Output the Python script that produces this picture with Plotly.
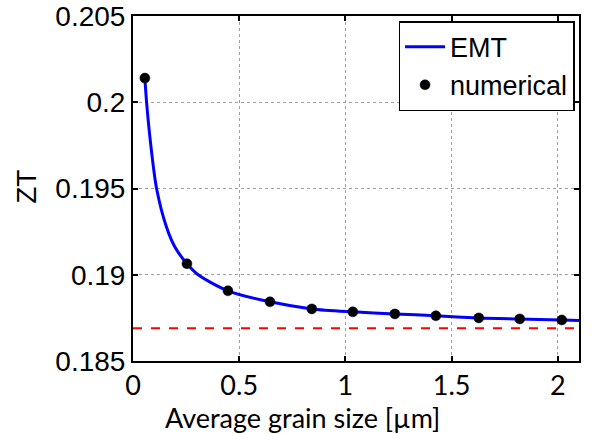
import plotly.graph_objects as go

# Numerical points
num_x = [0.056, 0.254, 0.447, 0.645, 0.842, 1.035, 1.233, 1.426, 1.628, 1.821, 2.019]
num_y = [0.2014, 0.19064, 0.18907, 0.18843, 0.18802, 0.18785, 0.18773, 0.18762, 0.18750, 0.18744, 0.18738]

# EMT curve
emt_x = [0.056, 0.064, 0.083, 0.111, 0.158, 0.198, 0.254, 0.307, 0.447, 0.645, 0.842, 1.035, 1.233, 1.426, 1.628, 1.821, 2.019, 2.1]
emt_y = [0.2014, 0.2000, 0.1976, 0.1950, 0.19275, 0.19159, 0.19064, 0.1900, 0.18907, 0.18843, 0.18802, 0.18785, 0.18773, 0.18762, 0.18750, 0.18744, 0.18738, 0.18735]

# Reference level (red dashed)
ref_x = [0, 2.1]
ref_y = [0.1869, 0.1869]

x_ticks = [0, 0.5, 1, 1.5, 2]
x_labels = ["0", "0.5", "1", "1.5", "2"]
y_ticks = [0.185, 0.19, 0.195, 0.2, 0.205]
y_labels = ["0.185", "0.19", "0.195", "0.2", "0.205"]

fig = go.Figure()
fig.add_trace(go.Scatter(x=ref_x, y=ref_y, mode="lines",
                         line=dict(color="#ff0000", width=2, dash="dash"),
                         showlegend=False, hoverinfo="skip"))
fig.add_trace(go.Scatter(x=emt_x, y=emt_y, mode="lines", name="EMT",
                         line=dict(color="#0000ff", width=3, shape="spline", smoothing=0.8)))
fig.add_trace(go.Scatter(x=num_x, y=num_y, mode="markers", name="numerical",
                         marker=dict(color="black", size=10, line=dict(color="#000033", width=0.5))))

axis_common = dict(showline=True, linecolor="black", linewidth=2, mirror="ticks",
                   ticks="inside", ticklen=5, tickcolor="black", tickwidth=1.5,
                   showgrid=True, gridcolor="#a0a0a0", gridwidth=1, griddash="dot",
                   zeroline=False, automargin=False)

fig.update_layout(
    width=592, height=434,
    margin=dict(l=133, r=13, t=16, b=73),
    paper_bgcolor="white", plot_bgcolor="white",
    xaxis=dict(range=[0, 2.1], tickvals=x_ticks, ticktext=x_labels,
               tickfont=dict(family="Lato, Liberation Sans, sans-serif", size=27, color="black"),
               **axis_common),
    yaxis=dict(range=[0.185, 0.205], tickvals=y_ticks, ticktext=y_labels,
               tickfont=dict(family="Liberation Sans, Arial, sans-serif", size=28, color="black"),
               **axis_common),
    legend=dict(x=0.99, y=0.985, xanchor="right", yanchor="top",
                bgcolor="white", bordercolor="black", borderwidth=1.5,
                font=dict(family="Liberation Sans, Arial, sans-serif", size=27, color="black"),
                itemwidth=40, tracegroupgap=0),
    showlegend=True,
    annotations=[
        dict(text="Average grain size [\u00b5m]", xref="paper", yref="paper",
             x=0.381, y=0, yshift=-56, xanchor="center", yanchor="middle", showarrow=False,
             font=dict(family="Lato, Liberation Sans, sans-serif", size=27, color="black")),
        dict(text="ZT", xref="paper", yref="paper", x=0, xshift=-106, y=0.505,
             xanchor="center", yanchor="middle", textangle=-90, showarrow=False,
             font=dict(family="Liberation Sans, Arial, sans-serif", size=28, color="black")),
    ],
)

fig.write_html("out.html")
